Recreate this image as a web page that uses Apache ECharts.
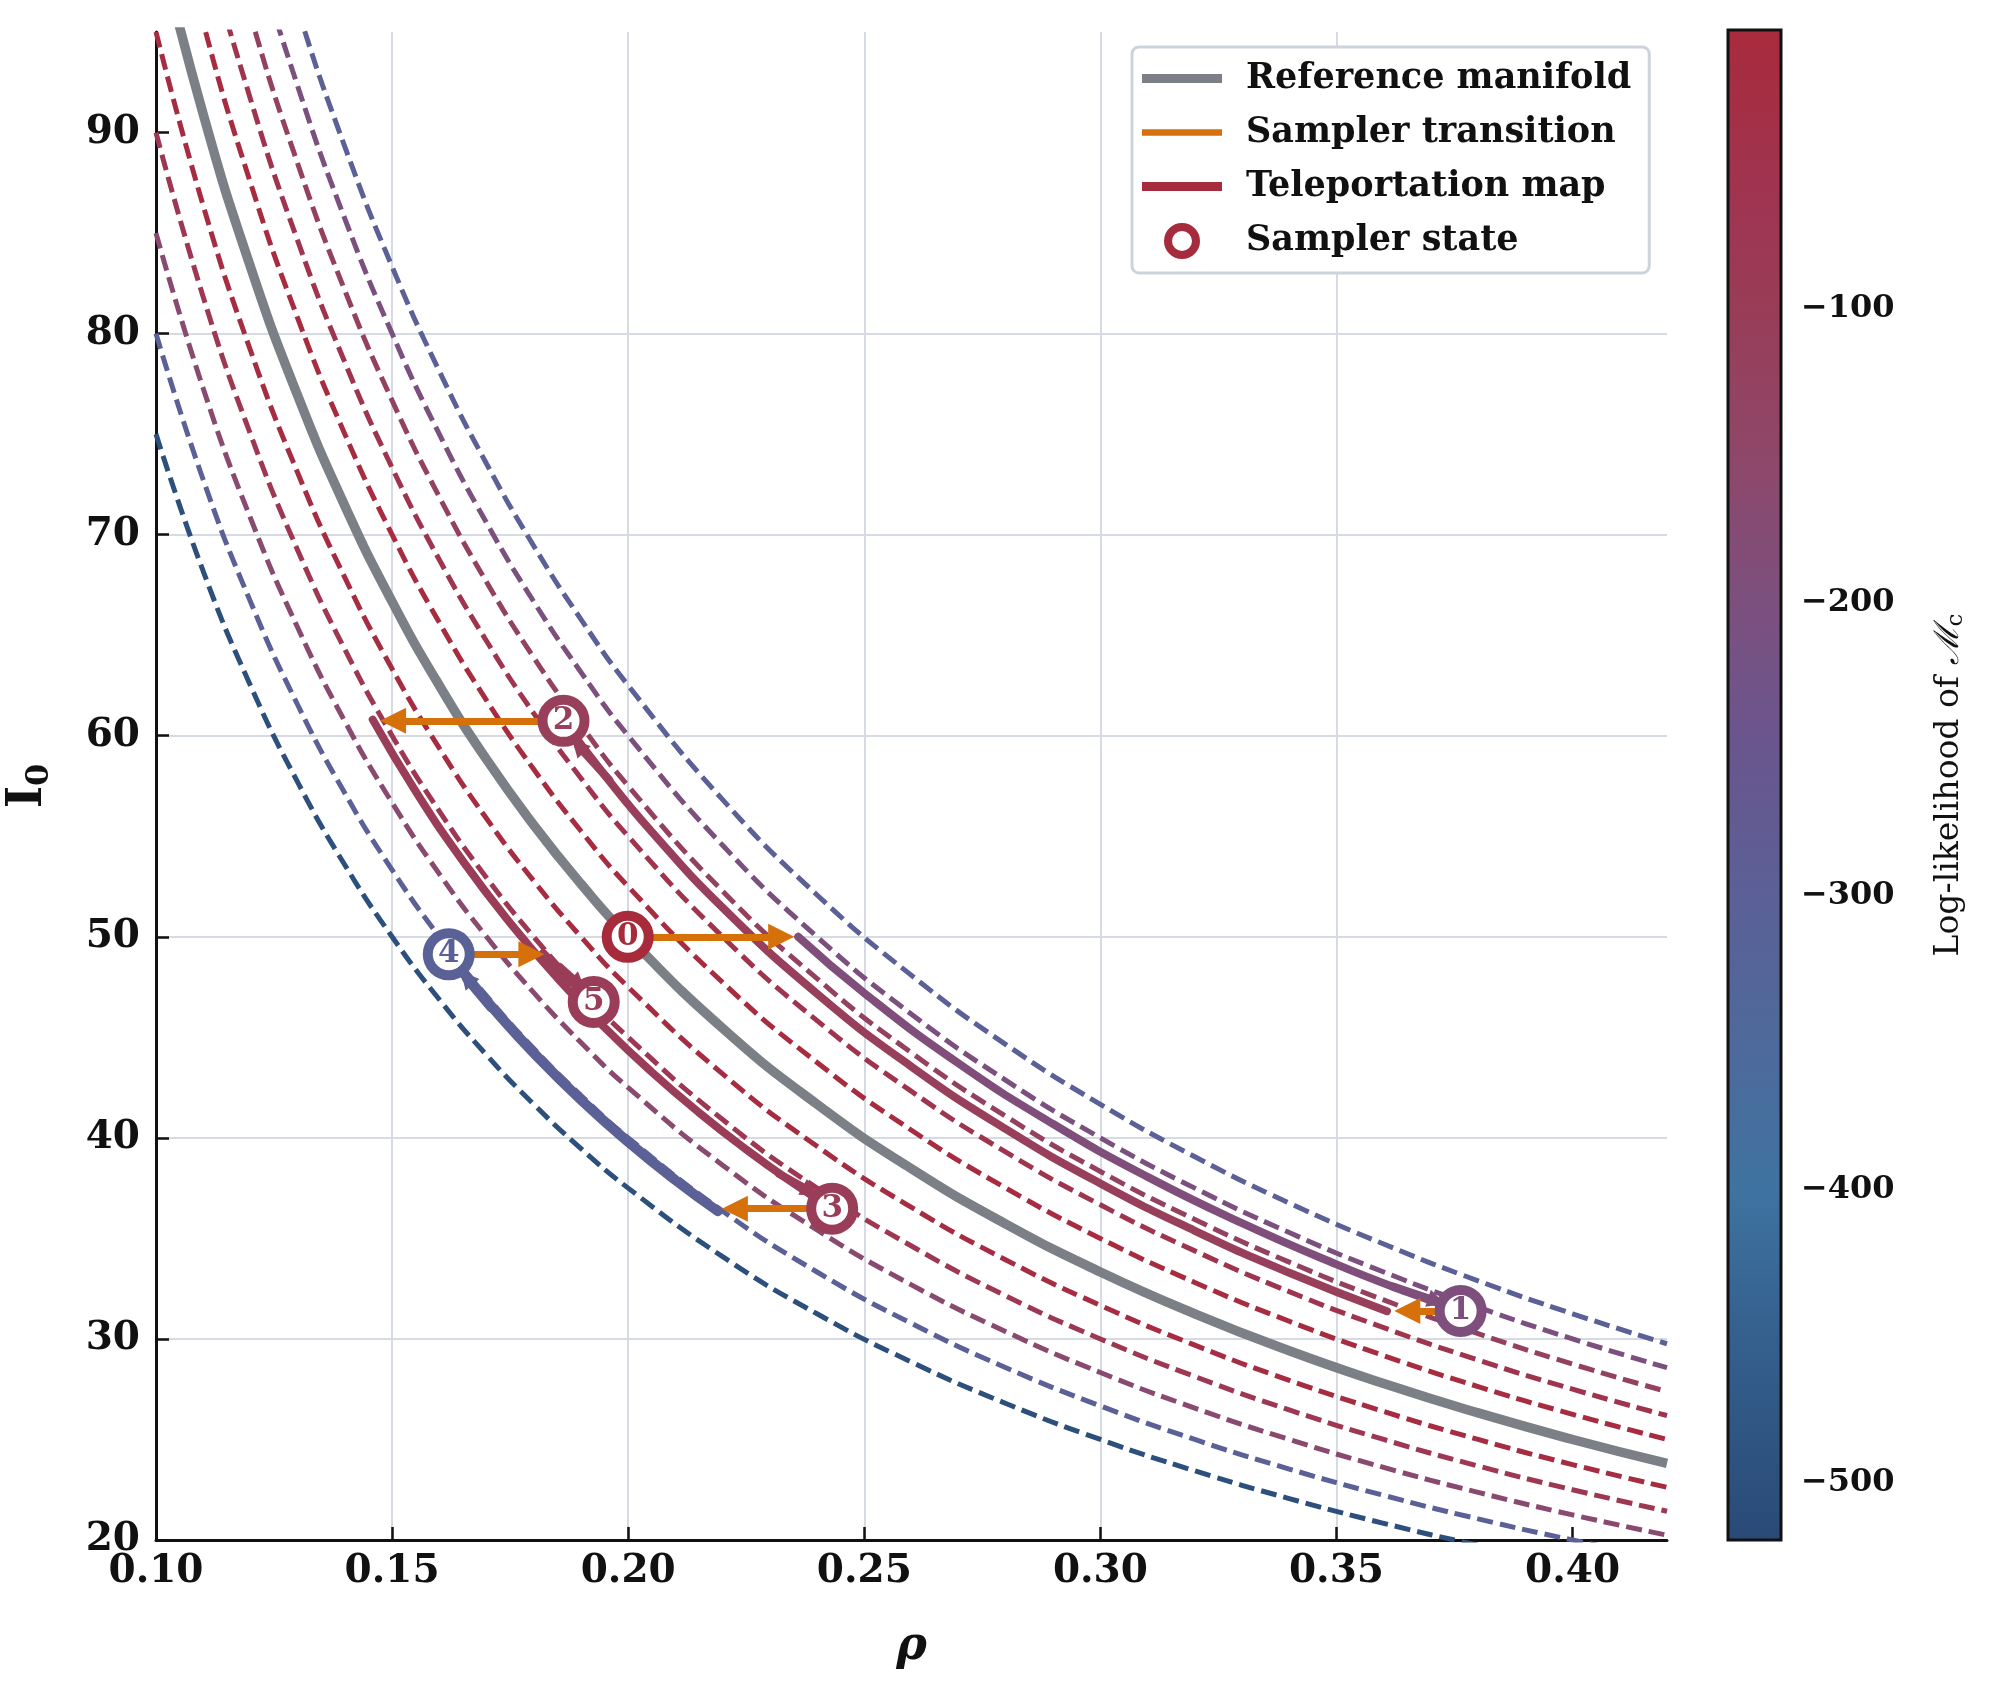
<!DOCTYPE html>
<html>
<head>
<meta charset="utf-8">
<title>Teleportation sampler on the reference manifold</title>
<script src="https://cdn.jsdelivr.net/npm/echarts@6/dist/echarts.min.js"></script>
<style>
  html, body { margin: 0; padding: 0; background: #ffffff; }
  #chart { width: 1995px; height: 1707px; }
</style>
</head>
<body>
<div id="chart"></div>
<script>
// ---- data ----
var RHO_GRID = [0.10, 0.11, 0.12, 0.13, 0.14, 0.15, 0.16, 0.17, 0.18, 0.19, 0.20,
  0.22, 0.24, 0.26, 0.28, 0.30, 0.32, 0.34, 0.36, 0.38, 0.40, 0.42];

var REFERENCE_I0 = [100, 90.91, 83.33, 76.92, 71.43, 66.67, 62.5, 58.82, 55.56, 52.63, 50,
  45.45, 41.67, 38.46, 35.71, 33.33, 31.25, 29.41, 27.78, 26.32, 25, 23.81];

// dashed level curves (I0 at each RHO_GRID point)
var LEVEL_A = [75, 68.18, 62.5, 57.69, 53.57, 50, 46.88, 44.12, 41.67, 39.47, 37.5, 34.09, 31.25, 28.85, 26.79, 25, 23.44, 22.06, 20.83, 19.74, 18.75, 17.86];
var LEVEL_B = [80, 72.73, 66.67, 61.54, 57.14, 53.33, 50, 47.06, 44.44, 42.11, 40, 36.36, 33.33, 30.77, 28.57, 26.67, 25, 23.53, 22.22, 21.05, 20, 19.05];
var LEVEL_C = [85, 77.27, 70.83, 65.38, 60.71, 56.67, 53.13, 50, 47.22, 44.74, 42.5, 38.64, 35.42, 32.69, 30.36, 28.33, 26.56, 25, 23.61, 22.37, 21.25, 20.24];
var LEVEL_D = [90, 81.82, 75, 69.23, 64.29, 60, 56.25, 52.94, 50, 47.37, 45, 40.91, 37.5, 34.62, 32.14, 30, 28.13, 26.47, 25, 23.68, 22.5, 21.43];
var LEVEL_E = [95, 86.36, 79.17, 73.08, 67.86, 63.33, 59.38, 55.88, 52.78, 50, 47.5, 43.18, 39.58, 36.54, 33.93, 31.67, 29.69, 27.94, 26.39, 25, 23.75, 22.62];
var LEVEL_F = [105, 95.45, 87.5, 80.77, 75, 70, 65.63, 61.76, 58.33, 55.26, 52.5, 47.73, 43.75, 40.38, 37.5, 35, 32.81, 30.88, 29.17, 27.63, 26.25, 25];
var LEVEL_G = [110, 100, 91.67, 84.62, 78.57, 73.33, 68.75, 64.71, 61.11, 57.89, 55, 50, 45.83, 42.31, 39.29, 36.67, 34.38, 32.35, 30.56, 28.95, 27.5, 26.19];
var LEVEL_H = [115, 104.55, 95.83, 88.46, 82.14, 76.67, 71.88, 67.65, 63.89, 60.53, 57.5, 52.27, 47.92, 44.23, 41.07, 38.33, 35.94, 33.82, 31.94, 30.26, 28.75, 27.38];
var LEVEL_I = [120, 109.09, 100, 92.31, 85.71, 80, 75, 70.59, 66.67, 63.16, 60, 54.55, 50, 46.15, 42.86, 40, 37.5, 35.29, 33.33, 31.58, 30, 28.57];
var LEVEL_J = [125, 113.64, 104.17, 96.15, 89.29, 83.33, 78.13, 73.53, 69.44, 65.79, 62.5, 56.82, 52.08, 48.08, 44.64, 41.67, 39.06, 36.76, 34.72, 32.89, 31.25, 29.76];
var LEVEL_LOGLIK = [-505, -300, -165, -72, -18, -14, -58, -122, -200, -300];

// sampler states 0..5
var STATE_RHO = [0.1999, 0.3763, 0.1863, 0.2432, 0.1620, 0.1927];
var STATE_I0 = [50.0, 31.39, 60.74, 36.48, 49.13, 46.76];
var STATE_LOGLIK = [-5, -195, -108, -100, -305, -98];

// sampler transitions: from state i, horizontal move to (arrow) rho
var TRANSITION_TO_RHO = [0.2324, 0.3650, 0.1502, 0.2226, 0.1795];

// teleportation paths
var TELE_1 = [[0.236, 50.0], [0.25, 47.2], [0.27, 43.7], [0.29, 40.69], [0.31, 38.06], [0.33, 35.76], [0.35, 33.71], [0.365, 32.33], [0.3763, 31.39]];
var TELE_2 = [[0.3607, 31.38], [0.34, 33.29], [0.32, 35.38], [0.30, 37.73], [0.28, 40.43], [0.26, 43.54], [0.24, 47.17], [0.22, 51.45], [0.205, 55.22], [0.195, 58.05], [0.1863, 60.74]];
var TELE_3 = [[0.1459, 60.8], [0.155, 57.23], [0.165, 53.76], [0.175, 50.69], [0.185, 47.95], [0.195, 45.49], [0.205, 43.27], [0.215, 41.26], [0.225, 39.42], [0.235, 37.74], [0.2432, 36.48]];
var TELE_4 = [[0.219, 36.35], [0.21, 37.9], [0.20, 39.8], [0.19, 41.89], [0.18, 44.22], [0.172, 46.28], [0.166, 47.95], [0.162, 49.13]];
var TELE_5 = [[0.182, 49.2], [0.1855, 48.35], [0.189, 47.55], [0.1927, 46.76]];
var TELE_LOGLIK = [-190, -108, -102, -300, -98];
// arrow heads near the end of each path: [from, head]
var TELE_HEADS = [
  [[0.362, 32.6], [0.3712, 31.88]],
  [[0.196, 57.8], [0.1894, 59.5]],
  [[0.232, 38.2], [0.2386, 37.35]],
  [[0.171, 46.5], [0.1658, 47.95]],
  [[0.1855, 48.5], [0.1895, 47.65]]
];

var X_TICKS = [0.10, 0.15, 0.20, 0.25, 0.30, 0.35, 0.40];
var Y_TICKS = [20, 30, 40, 50, 60, 70, 80, 90];
var CB_TICKS = [-500, -400, -300, -200, -100];
var CB_MIN = -519.5, CB_MAX = -5;

// colour map of the log-likelihood
var CMAP = [[-5, '#a82b3c'], [-60, '#9f3450'], [-100, '#993d58'], [-150, '#8e4769'],
  [-200, '#7c507e'], [-250, '#69568f'], [-300, '#5b6096'], [-350, '#4e699b'],
  [-400, '#3f73a0'], [-450, '#35608e'], [-519.5, '#2a4a76']];

var FONT = 'DejaVu Serif';
var ORANGE = '#d5700b';
var GRAY = '#7b8086';
var RED = '#a62b3d';

// legend icons: a thick bar inside an 80x28 box (tiny corner dots fix the box)
function barIcon(h) {
  var y0 = (28 - h) / 2;
  return 'path://M0,0h0.05v0.05h-0.05z M0,' + y0 + 'h80v' + h + 'h-80z M79.95,27.95h0.05v0.05h-0.05z';
}

function hexToRgb(h) {
  return [parseInt(h.substr(1, 2), 16), parseInt(h.substr(3, 2), 16), parseInt(h.substr(5, 2), 16)];
}
function colorAt(v) {
  if (v >= CMAP[0][0]) return CMAP[0][1];
  for (var i = 1; i < CMAP.length; i++) {
    if (v >= CMAP[i][0]) {
      var t = (CMAP[i - 1][0] - v) / (CMAP[i - 1][0] - CMAP[i][0]);
      var a = hexToRgb(CMAP[i - 1][1]), b = hexToRgb(CMAP[i][1]);
      return 'rgb(' + a.map(function (c, k) { return Math.round(c + (b[k] - c) * t); }).join(',') + ')';
    }
  }
  return CMAP[CMAP.length - 1][1];
}

var chart = echarts.init(document.getElementById('chart'), null, { renderer: 'canvas' });

var series = [];

// dashed level curves
[LEVEL_A, LEVEL_B, LEVEL_C, LEVEL_D, LEVEL_E, LEVEL_F, LEVEL_G, LEVEL_H, LEVEL_I, LEVEL_J].forEach(function (ys, k) {
  series.push({
    type: 'line', name: 'level' + k, xAxisIndex: 0, yAxisIndex: 0,
    data: RHO_GRID.map(function (x, i) { return [x, ys[i]]; }),
    smooth: true, showSymbol: false, symbol: 'none', clip: true, silent: true, z: 2,
    lineStyle: { color: colorAt(LEVEL_LOGLIK[k]), width: 5, type: [16, 7] }
  });
});

// reference manifold
series.push({
  type: 'line', name: 'Reference manifold',
  data: RHO_GRID.map(function (x, i) { return [x, REFERENCE_I0[i]]; }),
  smooth: true, showSymbol: false, symbol: 'none', clip: true, silent: true, z: 3,
  color: GRAY,
  lineStyle: { color: GRAY, width: 9.5 }
});

// teleportation paths
[TELE_1, TELE_2, TELE_3, TELE_4, TELE_5].forEach(function (path, k) {
  var col = colorAt(TELE_LOGLIK[k]);
  var w = k === 3 ? 10 : 8;
  series.push({
    type: 'line', name: 'tele' + k,
    data: path, smooth: true, showSymbol: false, symbol: 'none', silent: true, z: 4,
    lineStyle: { color: col, width: w, cap: 'round' },
    markLine: {
      silent: true, animation: false, symbol: ['none', 'triangle'], symbolSize: 18,
      label: { show: false },
      lineStyle: { color: col, width: w, type: 'solid', cap: 'round' },
      data: [[{ coord: TELE_HEADS[k][0] }, { coord: TELE_HEADS[k][1] }]]
    }
  });
});

// legend-only series for the teleportation map
series.push({
  type: 'line', name: 'Teleportation map', data: [], symbol: 'none',
  color: RED, lineStyle: { color: RED, width: 9 }
});

// sampler transitions (orange arrows)
series.push({
  type: 'line', name: 'Sampler transition', data: [], symbol: 'none', z: 5,
  color: ORANGE, lineStyle: { color: ORANGE, width: 6.5 },
  markLine: {
    silent: true, animation: false, symbol: ['none', 'triangle'], symbolSize: 26,
    label: { show: false }, z: 5,
    lineStyle: { color: ORANGE, width: 7, type: 'solid', cap: 'round' },
    data: TRANSITION_TO_RHO.map(function (rx, i) {
      return [{ coord: [STATE_RHO[i], STATE_I0[i]] }, { coord: [rx, STATE_I0[i]] }];
    })
  }
});

// sampler states
series.push({
  type: 'scatter', name: 'Sampler state', z: 10, symbol: 'circle', symbolSize: 42,
  itemStyle: { color: '#ffffff', borderColor: RED, borderWidth: 10, opacity: 1 },
  label: {
    show: true, position: 'inside', fontFamily: FONT, fontWeight: 'bold', fontSize: 31,
    formatter: function (p) { return String(p.dataIndex); }
  },
  data: STATE_RHO.map(function (x, i) {
    var col = colorAt(STATE_LOGLIK[i]);
    return { value: [x, STATE_I0[i]], itemStyle: { borderColor: col }, label: { color: col } };
  })
});

// colour bar (scale carried by the second grid's y axis)
var cbStops = CMAP.map(function (s) { return { offset: (CB_MAX - s[0]) / (CB_MAX - CB_MIN), color: s[1] }; });
series.push({
  type: 'line', name: 'colorbar', xAxisIndex: 1, yAxisIndex: 1, data: [['cb', -300]],
  symbol: 'none', silent: true, lineStyle: { opacity: 0 }
});

var option = {
  animation: false,
  backgroundColor: '#ffffff',
  textStyle: { fontFamily: FONT },
  grid: [
    { left: 156, top: 32, width: 1511, height: 1508, outerBoundsMode: 'none', containLabel: false },
    {
      left: 1728, top: 30, width: 53, height: 1510, show: true, z: 1,
      outerBoundsMode: 'none', containLabel: false,
      backgroundColor: { type: 'linear', x: 0, y: 30, x2: 0, y2: 1540, global: true, colorStops: cbStops },
      borderColor: '#111111', borderWidth: 3
    }
  ],
  legend: {
    orient: 'vertical', left: 1132, top: 47, align: 'left',
    padding: [14, 18, 14, 10],
    itemWidth: 80, itemHeight: 28, itemGap: 19,
    backgroundColor: '#ffffff', borderColor: '#cdd3db', borderWidth: 3, borderRadius: 7,
    selectedMode: false, z: 20,
    textStyle: { fontFamily: FONT, fontWeight: 'bold', fontSize: 35, color: '#111111', lineHeight: 30, padding: [0, 0, 0, 19] },
    data: [
      { name: 'Reference manifold', icon: barIcon(9), itemStyle: { color: GRAY, borderWidth: 0 } },
      { name: 'Sampler transition', icon: barIcon(6.5), itemStyle: { color: ORANGE, borderWidth: 0 } },
      { name: 'Teleportation map', icon: barIcon(9), itemStyle: { color: RED, borderWidth: 0 } },
      { name: 'Sampler state', icon: 'circle', itemStyle: { color: '#ffffff', borderColor: RED, borderWidth: 8 } }
    ]
  },
  xAxis: [
    {
      type: 'value', gridIndex: 0, min: 0.10, max: 0.42, interval: 0.05,
      name: 'ρ', nameLocation: 'middle', nameGap: 84,
      nameTextStyle: { fontFamily: FONT, fontStyle: 'italic', fontWeight: 'bold', fontSize: 46, color: '#111111' },
      axisLine: { show: true, onZero: false, lineStyle: { color: '#111111', width: 3 } },
      axisTick: { show: true, inside: true, length: 13, customValues: X_TICKS, lineStyle: { color: '#111111', width: 2.5 } },
      axisLabel: {
        customValues: X_TICKS, margin: 12, fontFamily: FONT, fontWeight: 'bold', fontSize: 39, color: '#111111',
        formatter: function (v) { return v.toFixed(2); }
      },
      splitLine: { show: true, showMinLine: false, showMaxLine: false, lineStyle: { color: '#d6dae3', width: 2 } }
    },
    {
      type: 'category', gridIndex: 1, data: ['cb'], show: false
    }
  ],
  yAxis: [
    {
      type: 'value', gridIndex: 0, min: 20, max: 95, interval: 10,
      name: '{i|I}{s|0}', nameLocation: 'middle', nameGap: 100, nameRotate: 90,
      nameTextStyle: {
        color: '#111111',
        rich: {
          i: { fontFamily: FONT, fontWeight: 'bold', fontSize: 48, color: '#111111' },
          s: { fontFamily: FONT, fontWeight: 'bold', fontSize: 32, color: '#111111', padding: [22, 0, 0, 0] }
        }
      },
      axisLine: { show: true, onZero: false, lineStyle: { color: '#111111', width: 3 } },
      axisTick: { show: true, inside: true, length: 13, customValues: Y_TICKS, lineStyle: { color: '#111111', width: 2.5 } },
      axisLabel: { customValues: Y_TICKS, margin: 16, fontFamily: FONT, fontWeight: 'bold', fontSize: 39, color: '#111111' },
      splitLine: { show: true, showMinLine: false, showMaxLine: false, lineStyle: { color: '#d6dae3', width: 2 } }
    },
    {
      type: 'value', gridIndex: 1, min: CB_MIN, max: CB_MAX, position: 'right',
      name: '{t|Log-likelihood of }{m|ℳ}{s|c}', nameLocation: 'middle', nameGap: 150, nameRotate: 90,
      nameTextStyle: {
        color: '#111111',
        rich: {
          t: { fontFamily: FONT, fontSize: 33, color: '#111111' },
          m: { fontFamily: FONT, fontStyle: 'italic', fontSize: 34, color: '#111111' },
          s: { fontFamily: FONT, fontSize: 23, color: '#111111', padding: [14, 0, 0, 0] }
        }
      },
      axisLine: { show: false },
      splitLine: { show: false },
      axisTick: { show: true, inside: true, length: 13, customValues: CB_TICKS, lineStyle: { color: '#111111', width: 2.5 } },
      axisLabel: {
        customValues: CB_TICKS, margin: 20, fontFamily: FONT, fontWeight: 'bold', fontSize: 32, color: '#111111',
        formatter: function (v) { return '\u2212' + Math.abs(v); }
      }
    }
  ],
  series: series
};

chart.setOption(option);
</script>
</body>
</html>
